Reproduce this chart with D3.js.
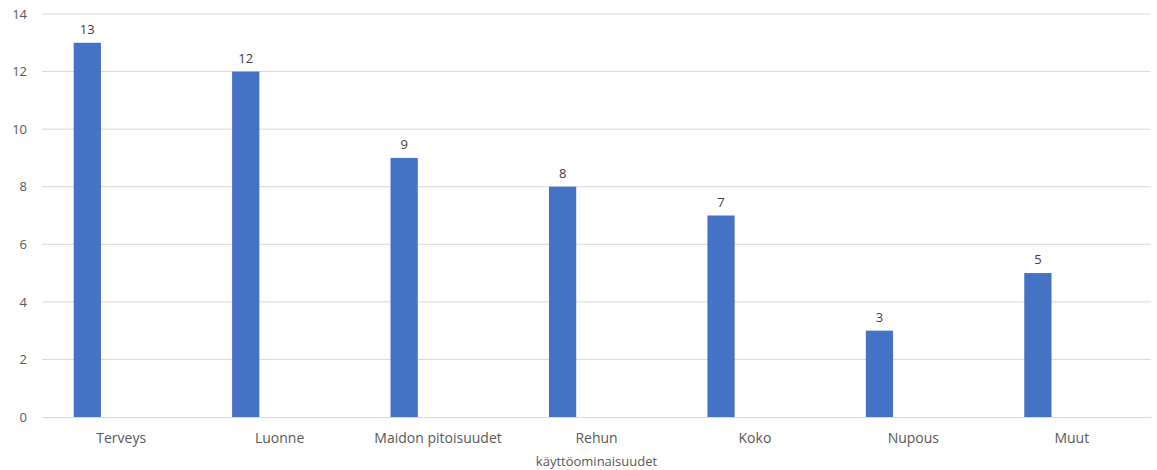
<!DOCTYPE html>
<html><head><meta charset="utf-8">
<script src="https://cdn.jsdelivr.net/npm/d3@7"></script>
<style>body{margin:0;background:#fff}svg{display:block}</style>
</head><body><svg id="c" width="1157" height="470"></svg>
<script>
const categories = ["Terveys","Luonne","Maidon pitoisuudet","Rehun","Koko","Nupous","Muut"];
const values = [13,12,9,8,7,3,5];
const yTicks = [0,2,4,6,8,10,12,14];
const xTitle = "käyttöominaisuudet";

(function(){
const svg = d3.select("#c");
const mLeft = 42, mRight = 1151, mTop = 14, mBottom = 417;
const x = d3.scaleBand().domain(categories).range([mLeft, mRight]);
const y = d3.scaleLinear().domain([0,14]).range([mBottom, mTop]);
const font = "'Open Sans', 'Liberation Sans', sans-serif";
const textCol = "#595959";

svg.append("g").selectAll("line").data(yTicks.filter(d=>d>0)).join("line")
  .attr("x1", mLeft).attr("x2", mRight)
  .attr("y1", d=>y(d)).attr("y2", d=>y(d))
  .attr("stroke", "#d9d9d9").attr("stroke-width", 1);

const ya = svg.append("g").attr("transform", `translate(${mLeft},0)`)
  .call(d3.axisLeft(y).tickValues(yTicks).tickSize(0).tickPadding(15));
ya.select(".domain").remove();
ya.selectAll("text").attr("font-family", font).attr("font-size", 13).attr("fill", textCol);

const bw = x.bandwidth()*0.172;
const off = x.bandwidth()*0.2;
svg.append("g").selectAll("rect").data(values).join("rect")
  .attr("x", (d,i)=>x(categories[i])+off)
  .attr("width", bw)
  .attr("y", d=>y(d))
  .attr("height", d=>mBottom - y(d))
  .attr("fill", "#4472C4");

svg.append("g").selectAll("text").data(values).join("text")
  .attr("x", (d,i)=>x(categories[i])+off+bw/2)
  .attr("y", d=>y(d)-9)
  .attr("text-anchor","middle")
  .attr("font-family", font).attr("font-size", 13).attr("fill", "#404040")
  .text(d=>d);

const xa = svg.append("g").attr("transform", `translate(0,${mBottom})`)
  .call(d3.axisBottom(x).tickSize(0).tickPadding(16));
xa.select(".domain").attr("stroke", "#d9d9d9");
xa.selectAll("text").attr("font-family", font).attr("font-size", 14).attr("fill", textCol);

svg.append("text").attr("x", x("Rehun")+x.bandwidth()/2).attr("y", 466)
  .attr("text-anchor","middle").attr("font-family", font).attr("font-size", 13).attr("fill", textCol)
  .text(xTitle);
})();
</script></body></html>
